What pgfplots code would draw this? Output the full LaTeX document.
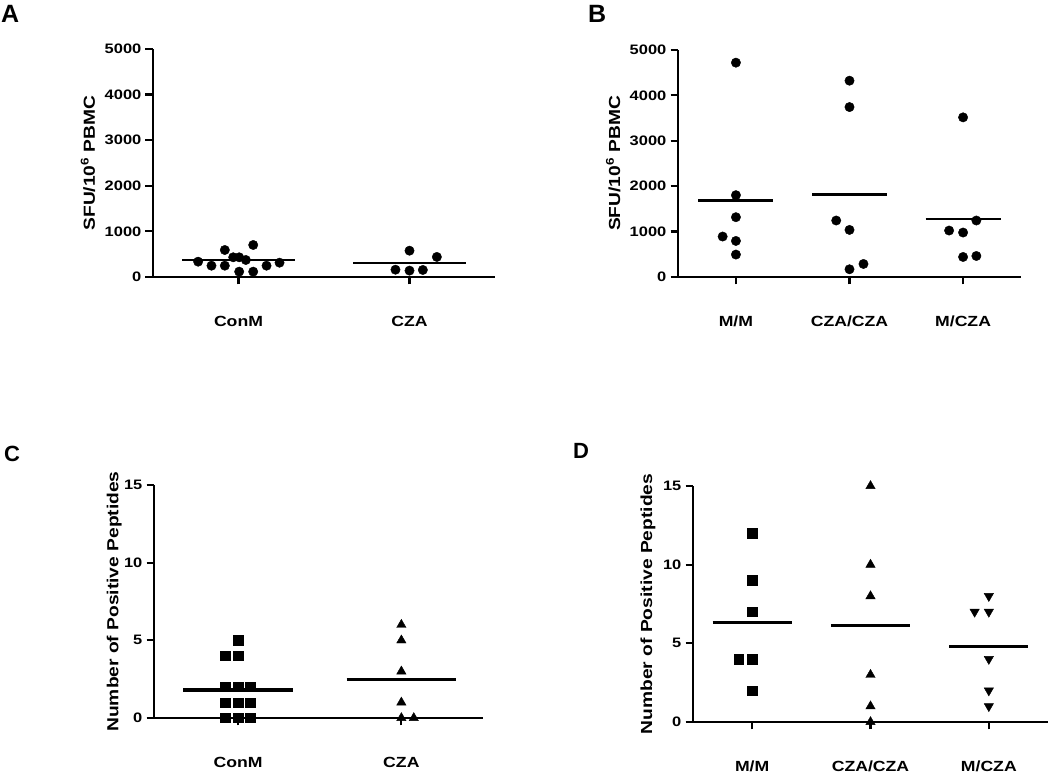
\documentclass[border=0pt]{standalone}
\usepackage{fontspec}
\setmainfont{Liberation Sans}
\newfontfamily\stf[FakeStretch=1.2]{Liberation Sans}
\usepackage{pgfplots}
\pgfplotsset{compat=1.18}

\pgfplotsset{
  panel/.style={
    scale only axis,
    axis lines=left,
    axis line style={-, line width=2.8pt},
    clip=false,
    tick align=outside,
    major tick length=7.5pt,
    every tick/.style={black, line width=2.2pt},
    xtick={0,1,2},
    yticklabel style={font=\stf\bfseries\fontsize{13.7}{14}\selectfont, anchor=east, inner sep=0pt, xshift=-4pt},
    xticklabel style={font=\stf\bfseries\fontsize{14.7}{15}\selectfont, anchor=base, inner sep=0pt, yshift=-42pt},
  },
  ylabpos/.style={every axis y label/.style={at={(axis description cs:#1,0.5)}, rotate=90, anchor=base, inner sep=0pt, font=\stf\bfseries\fontsize{16}{17}\selectfont}},
  dots/.style={only marks, mark=*, mark size=4.7pt, black},
  sq/.style={only marks, mark=square*, mark size=4.7pt, black},
  tri/.style={only marks, mark=triangle*, mark size=5.4pt, black},
  dtri/.style={only marks, mark=triangle*, mark size=5.4pt, black, mark options={rotate=180}},
  meanA/.style={no markers, black, line width=2.2pt},
  meanC/.style={no markers, black, line width=3.2pt},
}

\begin{document}
\begin{tikzpicture}
\useasboundingbox (0,0) rectangle (1050pt,775pt);

% ---------------- Panel A ----------------
\begin{axis}[panel, ylabpos=-0.170,
  at={(153pt,498pt)}, anchor=south west,
  width=342pt, height=228pt,
  xmin=-0.5, xmax=1.5, ymin=0, ymax=5000,
  xtick={0,1}, xticklabels={ConM,CZA},
  ytick={0,1000,2000,3000,4000,5000}, yticklabels={0,1000,2000,3000,4000,5000},
  ylabel={SFU/10\textsuperscript{6} PBMC}]
\addplot[meanA] coordinates {(-0.33,373) (0.33,373)};
\addplot[meanA] coordinates {(0.67,314) (1.33,314)};
\addplot[dots] coordinates {(-0.236,336) (-0.158,248) (-0.08,592) (-0.08,248) (-0.031,432) (0.004,432) (0.043,373) (0.086,702) (0.004,117) (0.086,117) (0.164,248) (0.24,314)};
\addplot[dots] coordinates {(1,577) (1.16,440) (0.918,160) (1,140) (1.078,154)};
\end{axis}

% ---------------- Panel B ----------------
\begin{axis}[panel, ylabpos=-0.169,
  at={(678pt,498pt)}, anchor=south west,
  width=343pt, height=227pt,
  xmin=-0.51, xmax=2.51, ymin=0, ymax=5000,
  xtick={0,1,2}, xticklabels={M/M,CZA/CZA,M/CZA},
  ytick={0,1000,2000,3000,4000,5000}, yticklabels={0,1000,2000,3000,4000,5000},
  ylabel={SFU/10\textsuperscript{6} PBMC}]
\addplot[meanA] coordinates {(-0.33,1685) (0.33,1685)};
\addplot[meanA] coordinates {(0.67,1817) (1.33,1817)};
\addplot[meanA] coordinates {(1.67,1280) (2.33,1280)};
\addplot[dots] coordinates {(0,4721) (0,1802) (0,1317) (-0.117,891) (0,794) (0,494)};
\addplot[dots] coordinates {(1,4324) (1,3743) (0.883,1244) (1,1037) (1,170) (1.123,287)};
\addplot[dots] coordinates {(2,3516) (2.117,1244) (1.877,1023) (2,979) (2,441) (2.117,463)};
\end{axis}

% ---------------- Panel C ----------------
\begin{axis}[panel, ylabpos=-0.108,
  at={(154pt,57pt)}, anchor=south west,
  width=329pt, height=233pt,
  xmin=-0.515, xmax=1.5, ymin=0, ymax=15,
  xtick={0,1}, xticklabels={ConM,CZA},
  ytick={0,5,10,15}, yticklabels={0,5,10,15},
  ylabel={Number of Positive Peptides}]
\addplot[meanC] coordinates {(-0.335,1.8) (0.335,1.8)};
\addplot[meanC] coordinates {(0.665,2.47) (1.335,2.47)};
\addplot[sq] coordinates {(0,5) (-0.08,4) (0,4) (-0.08,2) (0,2) (0.075,2) (-0.08,1) (0,1) (0.075,1) (-0.08,0) (0,0) (0.075,0)};
\addplot[tri] coordinates {(1,6) (1,5) (1,3) (1,1) (1,0) (1.076,0)};
\end{axis}

% ---------------- Panel D ----------------
\begin{axis}[panel, ylabpos=-0.115,
  at={(693pt,53pt)}, anchor=south west,
  width=355pt, height=236pt,
  xmin=-0.5, xmax=2.5, ymin=0, ymax=15,
  xtick={0,1,2}, xticklabels={M/M,CZA/CZA,M/CZA},
  ytick={0,5,10,15}, yticklabels={0,5,10,15},
  ylabel={Number of Positive Peptides}]
\addplot[meanC] coordinates {(-0.335,6.3) (0.335,6.3)};
\addplot[meanC] coordinates {(0.665,6.15) (1.335,6.15)};
\addplot[meanC] coordinates {(1.665,4.78) (2.335,4.78)};
\addplot[sq] coordinates {(0,12) (0,9) (0,7) (-0.113,4) (0,4) (0,2)};
\addplot[tri] coordinates {(1,15) (1,10) (1,8) (1,3) (1,1) (1,0)};
\addplot[dtri] coordinates {(2,8) (1.88,7) (2,7) (2,4) (2,2) (2,1)};
\end{axis}

% panel letters
\node[anchor=base west, inner sep=0pt, font=\bfseries\fontsize{25}{26}\selectfont] at (1pt,752pt) {A};
\node[anchor=base west, inner sep=0pt, font=\bfseries\fontsize{25}{26}\selectfont] at (588pt,752pt) {B};
\node[anchor=base west, inner sep=0pt, font=\bfseries\fontsize{22}{23}\selectfont] at (4pt,313pt) {C};
\node[anchor=base west, inner sep=0pt, font=\bfseries\fontsize{22}{23}\selectfont] at (573pt,316pt) {D};
\end{tikzpicture}
\end{document}
